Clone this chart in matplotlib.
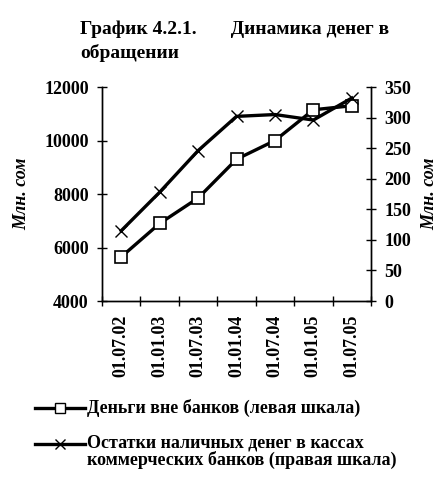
import matplotlib.pyplot as plt
from matplotlib.lines import Line2D

# Данные
даты = ['01.07.02', '01.01.03', '01.07.03', '01.01.04', '01.07.04', '01.01.05', '01.07.05']
деньги_вне_банков = [5650, 6900, 7850, 9300, 10000, 11150, 11300]
остатки_в_кассах = [115, 178, 246, 302, 305, 296, 332]

plt.rcParams['font.family'] = 'Liberation Serif'
plt.rcParams['font.weight'] = 'bold'

fig = plt.figure(figsize=(4.42, 4.84), dpi=100)
ax = fig.add_axes([0.2308, 0.378, 0.6086, 0.4422])
ax2 = ax.twinx()

x = list(range(len(даты)))
ax.plot(x, деньги_вне_банков, color='black', lw=2.4, marker='s', ms=9,
        mfc='white', mec='black', mew=1.2, zorder=3)
ax2.plot(x, остатки_в_кассах, color='black', lw=2.4, marker='x', ms=8.5,
         mec='black', mew=1.0, zorder=3)

ax.set_xlim(-0.5, len(даты) - 0.5)
ax.set_ylim(4000, 12000)
ax.set_yticks(range(4000, 12001, 2000))
ax2.set_ylim(0, 350)
ax2.set_yticks(range(0, 351, 50))

# деления между категориями, подписи по центру
ax.set_xticks([i - 0.5 for i in range(len(даты) + 1)])
ax.set_xticklabels([])
ax.set_xticks(x, minor=True)
ax.set_xticklabels(даты, minor=True, rotation=90, fontsize=13, fontweight='bold')
ax.tick_params(axis='x', which='minor', length=0, pad=10)
ax.tick_params(axis='x', which='major', direction='inout', length=7, width=1)
ax.tick_params(axis='y', direction='inout', length=7, width=1, labelsize=13, pad=6)
ax2.tick_params(axis='y', direction='inout', length=7, width=1, labelsize=13, pad=6)

for a in (ax, ax2):
    a.spines['top'].set_visible(False)
    for s in ('left', 'right', 'bottom'):
        a.spines[s].set_linewidth(1)

ax.set_ylabel('Млн. сом', fontstyle='italic', fontweight='bold', fontsize=13, labelpad=10)
ax2.set_ylabel('Млн. сом', fontstyle='italic', fontweight='bold', fontsize=13, labelpad=7)

fig.text(0.181, 0.958, 'График 4.2.1.       Динамика денег в\nобращении', fontsize=14,
         fontweight='bold', va='top', ha='left', linespacing=1.47)

# Легенда
fig.add_artist(Line2D([0.079, 0.192], [0.157, 0.157], color='black', lw=2.4,
                      transform=fig.transFigure))
fig.add_artist(Line2D([0.136], [0.157], marker='s', ms=7, mfc='white', mec='black',
                      mew=1, transform=fig.transFigure))
fig.text(0.197, 0.157, 'Деньги вне банков (левая шкала)', fontsize=13,
         fontweight='bold', va='center', ha='left')

fig.add_artist(Line2D([0.079, 0.192], [0.083, 0.083], color='black', lw=2.4,
                      transform=fig.transFigure))
fig.add_artist(Line2D([0.136], [0.083], marker='x', ms=7, mec='black', mew=1,
                      color='white', transform=fig.transFigure))
fig.text(0.197, 0.102, 'Остатки наличных денег в кассах\nкоммерческих банков (правая шкала)',
         fontsize=13, fontweight='bold', va='top', ha='left', linespacing=0.95)

fig.savefig('out.png', dpi=100)
